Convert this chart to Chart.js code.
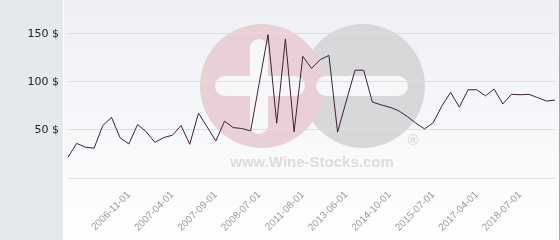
<!DOCTYPE html>
<html>
<head>
<meta charset="utf-8">
<script src="https://cdn.jsdelivr.net/npm/chart.js@4/dist/chart.umd.min.js"></script>
<style>
  html, body { margin: 0; padding: 0; background: #ffffff; }
  #wrap { width: 560px; height: 240px; position: relative; }
  canvas { display: block; }
</style>
</head>
<body>
<div id="wrap"><canvas id="price-graph" width="560" height="240"></canvas></div>
<script>
// Dates of each quote (only every 5th one is shown on the axis)
const quoteDates = [
    "2006-04-01", "2006-05-01", "2006-06-01", "2006-07-01", "2006-08-01", "2006-09-01", "2006-10-01",
    "2006-11-01", "2006-12-01", "2007-01-01", "2007-02-01", "2007-03-01",
    "2007-04-01", "2007-05-01", "2007-06-01", "2007-07-01", "2007-08-01",
    "2007-09-01", "2007-11-01", "2008-01-01", "2008-03-01", "2008-05-01",
    "2008-07-01", "2009-03-01", "2009-11-01", "2010-05-01", "2011-01-01",
    "2011-08-01", "2011-12-01", "2012-04-01", "2012-08-01", "2013-01-01",
    "2013-06-01", "2013-09-01", "2013-12-01", "2014-03-01", "2014-06-01",
    "2014-10-01", "2014-12-01", "2015-02-01", "2015-04-01", "2015-05-01",
    "2015-07-01", "2015-11-01", "2016-03-01", "2016-07-01", "2016-11-01",
    "2017-04-01", "2017-07-01", "2017-10-01", "2018-01-01", "2018-04-01",
    "2018-07-01", "2018-10-01", "2019-01-01", "2019-04-01", "2019-07-01",
];

// Price in $
const prices = [
    21.5, 36, 32, 31, 54.5, 63, 41.7,
    35.4, 55.6, 48, 37, 42,
    44.4, 54.5, 35, 67.4, 53,
    38.5, 59, 52.4, 51.4, 49,
    99, 149, 57, 144.5, 48,
    126.4, 114, 123, 127.4, 47.6,
    80, 112, 112, 79, 76,
    73.6, 70, 64, 57, 51,
    57.6, 75, 89, 73.6, 91.7,
    91.7, 85.4, 92.4, 77, 87,
    86.5, 87, 83.6, 80, 81,
];

// Y axis ticks
const priceTicks = [0, 50, 100, 150];
const priceMax = 185;

// Which date labels are shown
const firstLabel = 7;
const labelStep = 5;

const lineColor = "#3b2432";
const gridColor = "#dedede";

// Draws panels and the watermark behind the chart
const backdrop = {
    id: "backdrop",
    beforeDraw(chart) {
        const ctx = chart.ctx;
        const h = chart.height;
        ctx.save();

        // left panel
        ctx.fillStyle = "#e6e9ec";
        ctx.fillRect(0, 0, 63, h);
        ctx.fillStyle = "#ffffff";
        ctx.fillRect(63, 0, 1, h);

        // plot panel
        const grad = ctx.createLinearGradient(0, 0, 0, h);
        grad.addColorStop(0, "#eef0f4");
        grad.addColorStop(0.75, "#fbfbfd");
        grad.addColorStop(1, "#ffffff");
        ctx.fillStyle = grad;
        ctx.fillRect(64, 0, 495, h);
        ctx.fillStyle = "#a8a8a8";
        ctx.fillRect(559, 0, 1, h);

        // watermark
        ctx.fillStyle = "#d8d8da";
        ctx.beginPath();
        ctx.arc(363, 86, 62, 0, Math.PI * 2);
        ctx.fill();
        ctx.fillStyle = "#e9d0d6";
        ctx.beginPath();
        ctx.arc(262, 86, 62, 0, Math.PI * 2);
        ctx.fill();

        ctx.fillStyle = "#f7f7f9";
        ctx.beginPath();
        ctx.roundRect(215, 76, 90, 20, 10);
        ctx.fill();
        ctx.beginPath();
        ctx.roundRect(250, 39, 18, 95, 9);
        ctx.fill();
        ctx.beginPath();
        ctx.roundRect(316, 76, 92, 20, 10);
        ctx.fill();

        ctx.fillStyle = "#dcdcdc";
        ctx.font = "bold 15px 'Liberation Sans', Arial, sans-serif";
        ctx.textAlign = "center";
        ctx.textBaseline = "alphabetic";
        ctx.fillText("www.Wine-Stocks.com", 312, 167);
        ctx.fillText("\u00AE", 413, 145);

        ctx.restore();
    },
};

const ctx = document.getElementById("price-graph").getContext("2d");

const chart = new Chart(ctx, {
    type: "line",
    data: {
        labels: quoteDates,
        datasets: [
            {
                label: "Price",
                data: prices,
                borderColor: lineColor,
                borderWidth: 1,
                pointRadius: 0,
                fill: false,
                tension: 0,
            },
        ],
    },
    options: {
        responsive: false,
        animation: false,
        devicePixelRatio: 1,
        layout: {
            padding: { left: 0, right: 5, top: 0, bottom: 0 },
        },
        plugins: {
            legend: { display: false },
            tooltip: { enabled: false },
        },
        scales: {
            x: {
                offset: false,
                grid: { display: false, drawTicks: false },
                border: { display: false },
                ticks: {
                    autoSkip: false,
                    minRotation: 45,
                    maxRotation: 45,
                    padding: 11,
                    color: "#9a9a9a",
                    font: { family: "'Liberation Sans', Arial, sans-serif", size: 10 },
                    callback: function (value, index) {
                        if (index >= firstLabel && (index - firstLabel) % labelStep == 0) {
                            return quoteDates[index];
                        }
                        return "";
                    },
                },
                afterFit: function (scale) {
                    scale.height = 62;
                    scale.paddingLeft = 0;
                    scale.paddingRight = 0;
                },
            },
            y: {
                min: 0,
                max: priceMax,
                grid: { color: gridColor, lineWidth: 1, drawTicks: false },
                border: { display: false },
                ticks: {
                    padding: 9,
                    color: "#222222",
                    font: { family: "'DejaVu Sans', sans-serif", size: 11 },
                    callback: function (value) {
                        return value == 0 ? "" : value + " $";
                    },
                },
                afterBuildTicks: function (scale) {
                    scale.ticks = priceTicks.map((v) => ({ value: v }));
                },
                afterFit: function (scale) {
                    scale.width = 68;
                    scale.paddingTop = 0;
                    scale.paddingBottom = 0;
                },
            },
        },
    },
    plugins: [backdrop],
});
</script>
</body>
</html>
